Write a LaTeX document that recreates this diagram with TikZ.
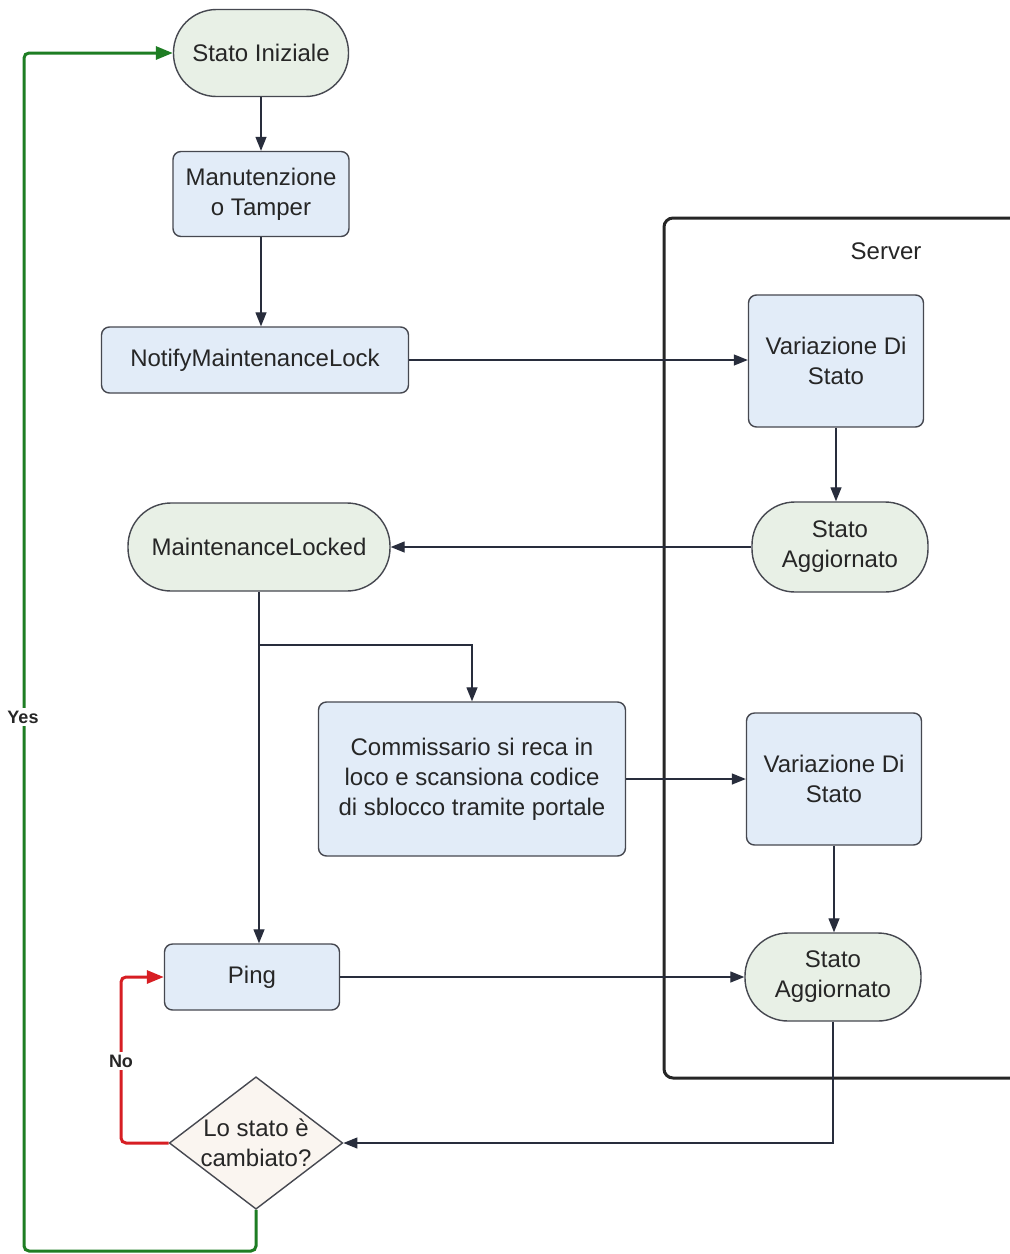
\documentclass[tikz,border=0pt]{standalone}
\usepackage{fontspec}
\setmainfont{Liberation Sans}
\usetikzlibrary{arrows.meta,shapes.geometric}
\definecolor{termfill}{RGB}{232,240,230}
\definecolor{procfill}{RGB}{226,236,248}
\definecolor{decfill}{RGB}{250,245,240}
\definecolor{edgecol}{RGB}{70,72,80}
\definecolor{arrcol}{RGB}{40,45,60}
\definecolor{yesgreen}{RGB}{30,125,35}
\definecolor{nored}{RGB}{215,30,35}
\tikzset{
  base/.style={draw=edgecol, line width=1.4pt, align=center, inner sep=0pt,
    font=\fontsize{24}{30}\selectfont, text=black!85},
  term/.style={base, fill=termfill, rounded corners=43pt},
  proc/.style={base, fill=procfill, rounded corners=8pt},
  dec/.style={base, fill=decfill, diamond, aspect=1.31},
  conn/.style={draw=arrcol, line width=1.3pt, -{Triangle[length=14pt,width=11pt]}},
  yesline/.style={draw=yesgreen, line width=3pt, rounded corners=5pt, -{Triangle[length=17pt,width=13pt]}},
  noline/.style={draw=nored, line width=3pt, rounded corners=5pt, -{Triangle[length=17pt,width=13pt]}},
  lbl/.style={fill=white, inner sep=3pt, font=\fontsize{18}{20}\selectfont\bfseries, text=black!85},
}
\begin{document}
\begin{tikzpicture}[x=1pt,y=-1pt]
\useasboundingbox[fill=white] (0,0) rectangle (1010,1254);
% server frame
\draw[line width=3pt, draw=black!85, rounded corners=9pt] (664,218) rectangle (1040,1078);
\node[font=\fontsize{24}{30}\selectfont, text=black!85] (srv) at (886,251) {Server};
% nodes
\node[term, minimum width=175pt, minimum height=87pt] (init) at (261,53) {Stato Iniziale};
\node[proc, minimum width=176pt, minimum height=85pt] (manu) at (261,194) {Manutenzione\\o Tamper};
\node[proc, minimum width=307pt, minimum height=66pt] (notify) at (255,360) {NotifyMaintenanceLock};
\node[term, minimum width=262pt, minimum height=88pt] (locked) at (259,547) {MaintenanceLocked};
\node[proc, minimum width=307pt, minimum height=154pt] (comm) at (472,779) {Commissario si reca in\\loco e scansiona codice\\di sblocco tramite portale};
\node[proc, minimum width=175pt, minimum height=66pt] (ping) at (252,977) {Ping};
\node[dec, minimum width=168pt, minimum height=128pt] (dec) at (256,1143) {Lo stato è\\cambiato?};
\node[proc, minimum width=175pt, minimum height=132pt] (var1) at (836,361) {Variazione Di\\Stato};
\node[term, minimum width=176pt, minimum height=90pt] (agg1) at (840,547) {Stato\\Aggiornato};
\node[proc, minimum width=175pt, minimum height=132pt] (var2) at (834,779) {Variazione Di\\Stato};
\node[term, minimum width=176pt, minimum height=88pt] (agg2) at (833,977) {Stato\\Aggiornato};
% connectors
\draw[conn] (init.south) -- (manu.north);
\draw[conn] (manu.south) -- (manu.south |- notify.north);
\draw[conn] (notify.east) -- (notify.east -| var1.west);
\draw[conn] (var1.south) -- (var1.south |- agg1.north);
\draw[conn] (agg1.west) -- (locked.east);
\draw[conn] (locked.south) -- (ping.north -| locked.south);
\coordinate (br) at (259,645);
\draw[conn] (br) -| (comm.north);
\draw[conn] (comm.east) -- (var2.west);
\draw[conn] (var2.south) -- (var2.south |- agg2.north);
\draw[conn] (ping.east) -- (agg2.west);
\draw[conn] (agg2.south) |- (dec.east);
% decision loops
\coordinate (nocorner) at (121,1143);
\draw[noline] (dec.west) -- (nocorner) |- (ping.west);
\node[lbl] (nolbl) at (121,1061) {No};
\coordinate (yb) at (256,1251);
\coordinate (yl) at (24,1251);
\draw[yesline] (dec.south) -- (yb) -- (yl) |- (init.west);
\node[lbl] (yeslbl) at (23,717) {Yes};
\end{tikzpicture}
\end{document}
